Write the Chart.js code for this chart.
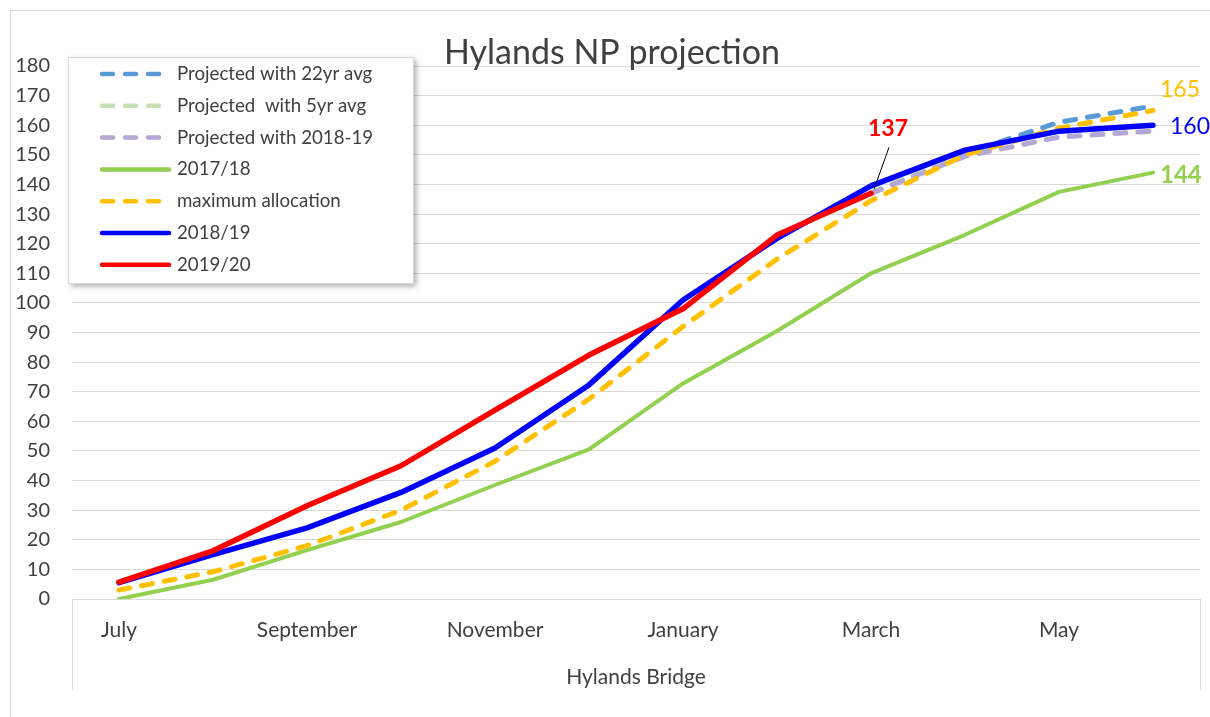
<!DOCTYPE html>
<html>
<head>
<meta charset="utf-8">
<script src="https://cdn.jsdelivr.net/npm/chart.js"></script>
<style>
  body { margin: 0; background: #fff; }
  #wrap { width: 1210px; height: 717px; position: relative; }
</style>
</head>
<body>
<div id="wrap"><canvas id="projChart"></canvas></div>
<script>
// months of the water year, July to June
const months = ['July', 'August', 'September', 'October', 'November', 'December',
                'January', 'February', 'March', 'April', 'May', 'June'];

// values
const proj22yr   = [null, null, null, null, null, null, null, null, 137, 150.5, 161, 166.5];
const proj5yr    = [null, null, null, null, null, null, null, null, 137, 151.5, 158, 160];
const proj1819   = [null, null, null, null, null, null, null, null, 137, 149.5, 156, 158];
const y2017      = [0, 6.5, 16.5, 26, 38.5, 50.5, 72.8, 90.5, 110, 123, 137.5, 144];
const maxAlloc   = [3, 9.2, 18, 30, 46.5, 67.5, 92, 114.8, 134.5, 150, 159, 165];
const y2018      = [5.5, 15, 24, 36, 51, 72.3, 101, 121.8, 139.5, 151.6, 158, 160];
const y2019      = [5.7, 16.3, 31.5, 45, 63.8, 82.4, 98, 122.9, 137, null, null, null];

const yTicksMax = 180;
const yTickStep = 10;

const FONT = 'Lato, "Open Sans", sans-serif';
const TXT = '#404040';
const GRID = '#D9D9D9';

var ctx = document.getElementById('projChart');

// frame, title, legend, end labels and the boxed category axis
const decor = {
    id: 'decor',
    beforeDraw(chart) {
        const c = chart.ctx;
        c.save();
        c.fillStyle = '#fff';
        c.fillRect(0, 0, chart.width, chart.height);
        c.strokeStyle = GRID;
        c.lineWidth = 1;
        c.strokeRect(10.5, 10.5, chart.width + 20, chart.height + 20);
        c.restore();
    },
    afterDraw(chart) {
        const c = chart.ctx;
        const area = chart.chartArea;
        c.save();

        // category axis box
        c.strokeStyle = GRID;
        c.lineWidth = 1;
        c.beginPath();
        c.moveTo(Math.round(area.left) + 0.5, area.bottom);
        c.lineTo(Math.round(area.left) + 0.5, 690);
        c.moveTo(Math.round(area.right) + 0.5, area.bottom);
        c.lineTo(Math.round(area.right) + 0.5, 690);
        c.stroke();

        // title
        c.fillStyle = '#404040';
        c.font = '34px ' + FONT;
        c.textAlign = 'center';
        c.textBaseline = 'middle';
        c.fillText('Hylands NP projection', 612, 53);

        // end labels
        const lastPt = (di, idx) => chart.getDatasetMeta(di).data[idx];
        const red = lastPt(6, 8);
        c.strokeStyle = '#000';
        c.lineWidth = 1;
        c.beginPath();
        c.moveTo(red.x + 3, red.y - 4);
        c.lineTo(red.x + 18, red.y - 46);
        c.stroke();
        c.font = 'bold 23px ' + FONT;
        c.fillStyle = '#FF0000';
        c.textAlign = 'center';
        c.fillText('137', red.x + 17, red.y - 65);

        const org = lastPt(4, 11);
        c.font = '23px ' + FONT;
        c.fillStyle = '#FFC000';
        c.textAlign = 'left';
        c.fillText('165', org.x + 7, org.y - 21);

        const blu = lastPt(5, 11);
        c.fillStyle = '#0000FF';
        c.fillText('160', blu.x + 17, blu.y + 1);

        const grn = lastPt(3, 11);
        c.font = 'bold 24px ' + FONT;
        c.fillStyle = '#92D050';
        c.fillText('144', grn.x + 7, grn.y + 3);

        // legend box
        const lx = 68, ly = 57, lw = 345, lh = 226;
        c.save();
        c.shadowColor = 'rgba(0,0,0,0.35)';
        c.shadowBlur = 6;
        c.shadowOffsetX = 3;
        c.shadowOffsetY = 3;
        c.fillStyle = '#fff';
        c.fillRect(lx, ly, lw, lh);
        c.restore();
        c.strokeStyle = GRID;
        c.strokeRect(lx + 0.5, ly + 0.5, lw, lh);

        c.font = '18.7px ' + FONT;
        c.textBaseline = 'middle';
        chart.data.datasets.forEach((ds, i) => {
            const yy = 74 + i * 31.8;
            c.strokeStyle = ds.borderColor;
            c.lineWidth = 4.5;
            c.lineCap = 'round';
            c.setLineDash(ds.borderDash || []);
            c.beginPath();
            c.moveTo(102, yy);
            c.lineTo(169, yy);
            c.stroke();
            c.setLineDash([]);
            c.fillStyle = '#404040';
            c.textAlign = 'left';
            c.fillText(ds.label, 177, yy);
        });
        c.restore();
    }
};

const dash = [11, 12];

var myChart = new Chart(ctx, {
    type: 'line',
    data: {
        labels: months,
        datasets: [
            { label: 'Projected with 22yr avg', data: proj22yr, borderColor: '#5B9BD5', borderWidth: 5, borderDash: dash, order: 6 },
            { label: 'Projected  with 5yr avg', data: proj5yr, borderColor: '#C5E0B4', borderWidth: 5, borderDash: dash, order: 5 },
            { label: 'Projected with 2018-19', data: proj1819, borderColor: '#B4A7D6', borderWidth: 5, borderDash: dash, order: 4 },
            { label: '2017/18', data: y2017, borderColor: '#92D050', borderWidth: 4, order: 3 },
            { label: 'maximum allocation', data: maxAlloc, borderColor: '#FFC000', borderWidth: 5, borderDash: dash, order: 2 },
            { label: '2018/19', data: y2018, borderColor: '#0000FF', borderWidth: 5.5, order: 1 },
            { label: '2019/20', data: y2019, borderColor: '#FF0000', borderWidth: 5.5, order: 0 },
        ]
    },
    options: {
        responsive: true,
        maintainAspectRatio: false,
        animation: false,
        layout: { padding: { left: 0, right: 10, top: 66, bottom: 0 } },
        elements: {
            point: { radius: 0, hoverRadius: 0 },
            line: { tension: 0, borderCapStyle: 'round', borderJoinStyle: 'round', fill: false }
        },
        plugins: {
            legend: { display: false },
            title: { display: false },
            tooltip: { enabled: false }
        },
        scales: {
            x: {
                offset: true,
                grid: { display: false, drawTicks: false },
                border: { display: false },
                ticks: {
                    autoSkip: false,
                    maxRotation: 0,
                    padding: 19,
                    color: TXT,
                    font: { family: FONT, size: 21 },
                    callback: (v, i) => (i % 2 === 0 ? months[i] : '')
                },
                title: {
                    display: true,
                    text: 'Hylands Bridge',
                    color: TXT,
                    font: { family: FONT, size: 21 },
                    padding: { top: 0, bottom: 27 }
                },
                afterFit: (s) => { s.height = 118; }
            },
            y: {
                min: 0,
                max: yTicksMax,
                grid: { color: GRID, lineWidth: 1, drawTicks: false },
                border: { display: false },
                ticks: {
                    stepSize: yTickStep,
                    padding: 22,
                    color: TXT,
                    font: { family: FONT, size: 20 }
                },
                afterFit: (s) => { s.width = 72; }
            }
        }
    },
    plugins: [decor]
});
</script>
</body>
</html>
